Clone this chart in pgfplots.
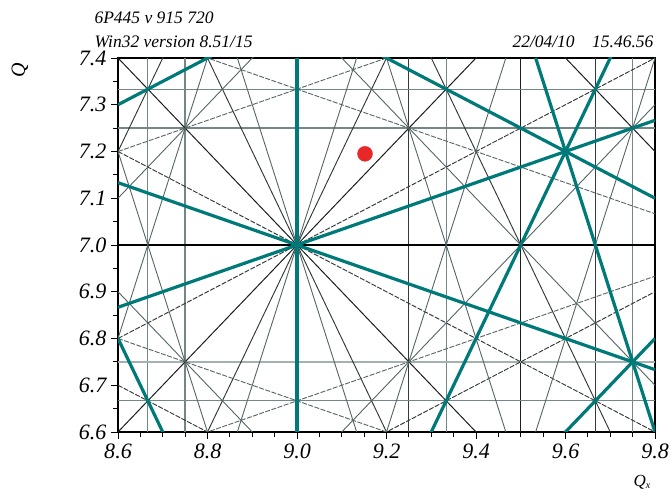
\documentclass[border=0pt]{standalone}
\usepackage{fontspec}
\setmainfont{Liberation Serif}
\usepackage{pgfplots}
\pgfplotsset{compat=1.18}
\definecolor{tealc}{RGB}{0,122,120}
\definecolor{otwo}{RGB}{25,30,30}
\definecolor{othree}{RGB}{50,58,58}
\definecolor{ofour}{RGB}{85,100,100}
\definecolor{hvg}{RGB}{115,135,135}
\begin{document}
\begin{tikzpicture}
\useasboundingbox (-118pt,-62pt) rectangle (553pt,432pt);
\begin{axis}[
  at={(0,0)}, anchor=south west,
  scale only axis, width=537pt, height=374pt,
  xmin=8.6, xmax=9.8, ymin=6.6, ymax=7.4,
  xtick={8.6,8.8,9.0,9.2,9.4,9.6,9.8},
  ytick={6.6,6.7,6.8,6.9,7.0,7.1,7.2,7.3,7.4},
  minor x tick num=3, minor y tick num=1,
  tick pos=left, tick align=outside,
  major tick length=7pt, minor tick length=5pt,
  every tick/.style={black, line width=0.9pt},
  /pgf/number format/assume math mode=true,
  /pgf/number format/.cd, fixed, fixed zerofill, precision=1, /pgfplots/.cd,
  tick label style={font=\fontsize{22}{24}\selectfont\itshape},
  xticklabel style={yshift=-1pt},
  yticklabel style={xshift=-1pt},
  axis line style={black, line width=1.1pt},
  clip=true,
]
% ---- horizontal / vertical resonances (orders 3, 4) ----
\addplot[hvg, line width=1.3pt] coordinates {(8.6667,6.6) (8.6667,7.4)};
\addplot[hvg, line width=1.3pt] coordinates {(9.3333,6.6) (9.3333,7.4)};
\addplot[othree, line width=1.1pt] coordinates {(9.6667,6.6) (9.6667,7.4)};
\addplot[hvg, line width=1.3pt] coordinates {(8.75,6.6) (8.75,7.4)};
\addplot[othree, line width=1.1pt] coordinates {(9.25,6.6) (9.25,7.4)};
\addplot[hvg, line width=1.3pt] coordinates {(9.75,6.6) (9.75,7.4)};
\addplot[otwo, line width=1.1pt] coordinates {(9.5,6.6) (9.5,7.4)};
\addplot[hvg, line width=1.3pt] coordinates {(8.6,7.3333) (9.8,7.3333)};
\addplot[hvg, line width=1.3pt] coordinates {(8.6,6.6667) (9.8,6.6667)};
\addplot[hvg, line width=1.3pt] coordinates {(8.6,7.25) (9.8,7.25)};
\addplot[hvg!65, line width=1.4pt] coordinates {(8.6,6.75) (9.8,6.75)};
\addplot[black, line width=1.4pt] coordinates {(8.6,7.0) (9.8,7.0)};
% ---- order 2: Qx +- Qy ----
\addplot[otwo, line width=1.0pt] coordinates {(8.6,7.4) (9.8,6.2)};
\addplot[otwo, line width=1.0pt] coordinates {(8.6,8.4) (9.8,7.2)};
\addplot[otwo, line width=1.0pt] coordinates {(8.6,6.6) (9.8,7.8)};
% ---- order 3: 2Qx +- Qy ----
\addplot[othree, line width=0.95pt] coordinates {(8.6,7.8) (9.8,5.4)};
\addplot[othree, line width=0.95pt] coordinates {(8.6,8.8) (9.8,6.4)};
\addplot[othree, line width=0.95pt] coordinates {(8.6,7.2) (9.8,9.6)};
\addplot[othree, line width=0.95pt] coordinates {(8.6,6.2) (9.8,8.6)};
% ---- order 3: Qx +- 2Qy ----
\addplot[othree, line width=0.95pt, dash pattern=on 5pt off 1.5pt] coordinates {(8.6,6.7) (9.8,6.1)};
\addplot[othree, line width=0.95pt, dash pattern=on 5pt off 1.5pt] coordinates {(8.6,7.2) (9.8,6.6)};
\addplot[othree, line width=0.95pt, dash pattern=on 5pt off 1.5pt] coordinates {(8.6,6.8) (9.8,7.4)};
\addplot[othree, line width=0.95pt, dash pattern=on 5pt off 1.5pt] coordinates {(8.6,6.3) (9.8,6.9)};
% ---- order 4: 3Qx +- Qy ----
\addplot[ofour, line width=0.9pt] coordinates {(8.8,6.6) (8.5333,7.4)};
\addplot[ofour, line width=0.9pt] coordinates {(9.1333,6.6) (8.8667,7.4)};
\addplot[ofour, line width=0.9pt] coordinates {(9.4667,6.6) (9.2,7.4)};
\addplot[ofour, line width=0.9pt] coordinates {(8.5333,6.6) (8.8,7.4)};
\addplot[ofour, line width=0.9pt] coordinates {(8.8667,6.6) (9.1333,7.4)};
\addplot[ofour, line width=0.9pt] coordinates {(9.2,6.6) (9.4667,7.4)};
\addplot[ofour, line width=0.9pt] coordinates {(9.5333,6.6) (9.8,7.4)};
% ---- order 4: Qx +- 3Qy ----
\addplot[ofour, line width=0.9pt, dash pattern=on 5pt off 1.5pt] coordinates {(8.6,6.8) (9.8,6.4)};
\addplot[ofour, line width=0.9pt, dash pattern=on 5pt off 1.5pt] coordinates {(8.6,7.4667) (9.8,7.0667)};
\addplot[ofour, line width=0.9pt, dash pattern=on 5pt off 1.5pt] coordinates {(8.6,7.2) (9.8,7.6)};
\addplot[ofour, line width=0.9pt, dash pattern=on 5pt off 1.5pt] coordinates {(8.6,6.5333) (9.8,6.9333)};
% ---- order 4: 2Qx +- 2Qy ----
\addplot[ofour, line width=0.9pt] coordinates {(8.6,6.9) (9.8,5.7)};
\addplot[ofour, line width=0.9pt] coordinates {(8.6,7.9) (9.8,6.7)};
\addplot[ofour, line width=0.9pt] coordinates {(8.6,7.1) (9.8,8.3)};
\addplot[ofour, line width=0.9pt] coordinates {(8.6,6.1) (9.8,7.3)};
% ---- systematic resonances (thick teal) ----
\addplot[tealc, line width=3.2pt] coordinates {(9.0,6.6) (9.0,7.4)};
\addplot[tealc, line width=3.2pt] coordinates {(8.6,5.6) (9.8,6.8)};
\addplot[tealc, line width=3.2pt] coordinates {(8.6,6.8) (9.8,4.4)};
\addplot[tealc, line width=3.2pt] coordinates {(8.6,5.2) (9.8,7.6)};
\addplot[tealc, line width=3.2pt] coordinates {(8.6,7.7) (9.8,7.1)};
\addplot[tealc, line width=3.2pt] coordinates {(8.6,7.3) (9.8,7.9)};
\addplot[tealc, line width=3.2pt] coordinates {(9.8,6.6) (9.5333,7.4)};
\addplot[tealc, line width=3.2pt] coordinates {(8.6,7.1333) (9.8,6.7333)};
\addplot[tealc, line width=3.2pt] coordinates {(8.6,6.8667) (9.8,7.2667)};
% ---- working point ----
\addplot[only marks, mark=*, mark size=7.5pt, color={rgb,255:red,232;green,40;blue,40}] coordinates {(9.152,7.195)};
\end{axis}
\node[anchor=west, font=\fontsize{17.5}{19}\selectfont\itshape] at (-27pt,414pt) {6P445 v 915 720};
\node[anchor=west, font=\fontsize{17.5}{19}\selectfont\itshape] at (-27pt,390pt) {Win32 version 8.51/15};
\node[anchor=east, font=\fontsize{17.5}{19}\selectfont\itshape] at (539pt,390pt) {22/04/10\quad 15.46.56};
\node[rotate=90, font=\fontsize{20}{22}\selectfont\itshape] at (-98pt,362pt) {Q};
\node[font=\fontsize{17}{19}\selectfont\itshape] at (524pt,-50pt) {Q\raisebox{-0.3ex}{\fontsize{10}{11}\selectfont x}};
\end{tikzpicture}
\end{document}
